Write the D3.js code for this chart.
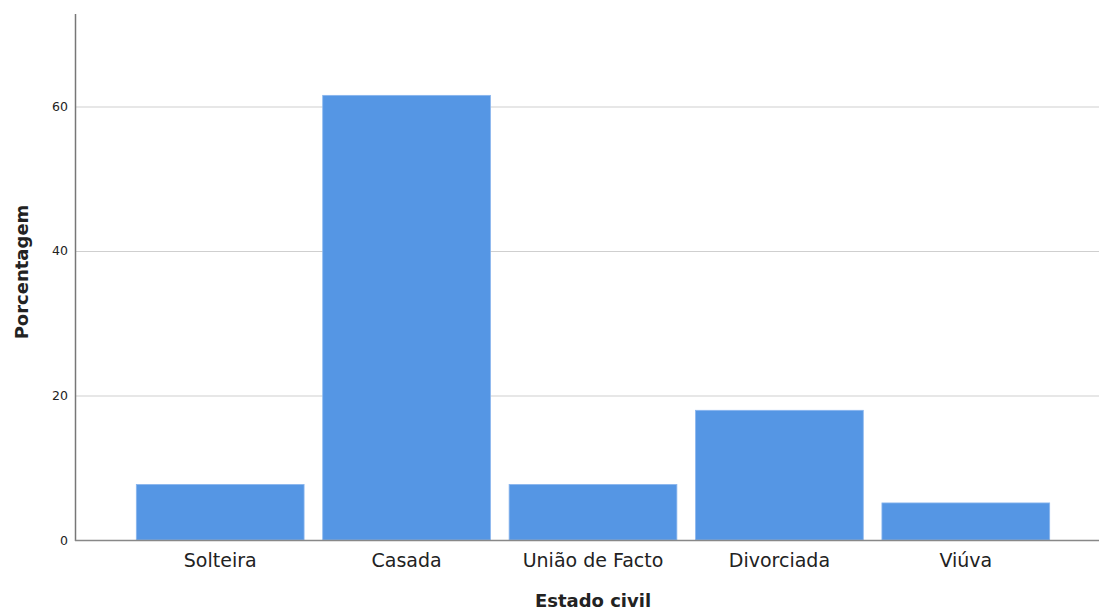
<!DOCTYPE html>
<html>
<head>
<meta charset="utf-8">
<script src="https://cdn.jsdelivr.net/npm/d3@7"></script>
<style>
  body { margin: 0; background: #fff; }
  svg, svg text { font-family: "DejaVu Sans", sans-serif; }
</style>
</head>
<body>
<div id="chart"></div>
<script>
var categories = ["Solteira", "Casada", "União de Facto", "Divorciada", "Viúva"];
var percentages = [7.69, 61.54, 7.69, 17.95, 5.13];
var yTicks = [0, 20, 40, 60];

var width = 1099, height = 611;
var axisLeft = 75, axisRight = 1099, axisTop = 14, axisBottom = 540;

var svg = d3.select("#chart")
    .append("svg")
      .attr("width", width)
      .attr("height", height);

var x = d3.scaleBand()
    .domain(categories)
    .range([127, 1059])
    .paddingInner(0.1)
    .paddingOuter(0.05);

var y = d3.scaleLinear()
    .domain([0, 72.8])
    .range([axisBottom, axisTop]);

// gridlines
svg.append("g")
    .selectAll("line")
    .data(yTicks.filter(function(d) { return d > 0; }))
    .enter()
    .append("line")
      .attr("x1", axisLeft)
      .attr("x2", axisRight)
      .attr("y1", function(d) { return y(d) + 0.5; })
      .attr("y2", function(d) { return y(d) + 0.5; })
      .attr("stroke", "#cfcfcf")
      .attr("stroke-width", 1.2);

// bars
svg.append("g")
    .selectAll("rect")
    .data(categories)
    .enter()
    .append("rect")
      .attr("x", function(d) { return x(d); })
      .attr("y", function(d, i) { return y(percentages[i]); })
      .attr("width", x.bandwidth())
      .attr("height", function(d, i) { return axisBottom - y(percentages[i]); })
      .attr("fill", "#5596e4")
      .attr("stroke", "#8ab6ee")
      .attr("stroke-width", 0.8);

// y axis
var yAxis = svg.append("g")
    .attr("transform", "translate(" + axisLeft + ",0)")
    .call(d3.axisLeft(y).tickValues(yTicks).tickSize(0).tickPadding(7));
yAxis.attr("font-family", null);
yAxis.select(".domain").remove();
yAxis.selectAll("text")
    .style("font-size", "12.5px")
    .style("fill", "#222");

svg.append("line")
    .attr("x1", axisLeft + 0.5).attr("x2", axisLeft + 0.5)
    .attr("y1", axisTop).attr("y2", axisBottom + 1)
    .attr("stroke", "#777")
    .attr("stroke-width", 1.5);

// x axis
var xAxis = svg.append("g")
    .attr("transform", "translate(0," + axisBottom + ")")
    .call(d3.axisBottom(x).tickSize(0).tickPadding(14));
xAxis.attr("font-family", null);
xAxis.select(".domain").remove();
xAxis.selectAll("text")
    .style("font-size", "19px")
    .style("fill", "#222");

svg.append("line")
    .attr("x1", axisLeft).attr("x2", axisRight)
    .attr("y1", axisBottom + 0.5).attr("y2", axisBottom + 0.5)
    .attr("stroke", "#888")
    .attr("stroke-width", 1.5);

// axis titles
svg.append("text")
    .attr("x", 593)
    .attr("y", 607)
    .style("text-anchor", "middle")
    .style("font-size", "18px")
    .style("font-weight", "bold")
    .style("fill", "#222")
    .text("Estado civil");

svg.append("text")
    .attr("transform", "translate(28,272) rotate(-90)")
    .style("text-anchor", "middle")
    .style("font-size", "18px")
    .style("font-weight", "bold")
    .style("fill", "#222")
    .text("Porcentagem");
</script>
</body>
</html>
